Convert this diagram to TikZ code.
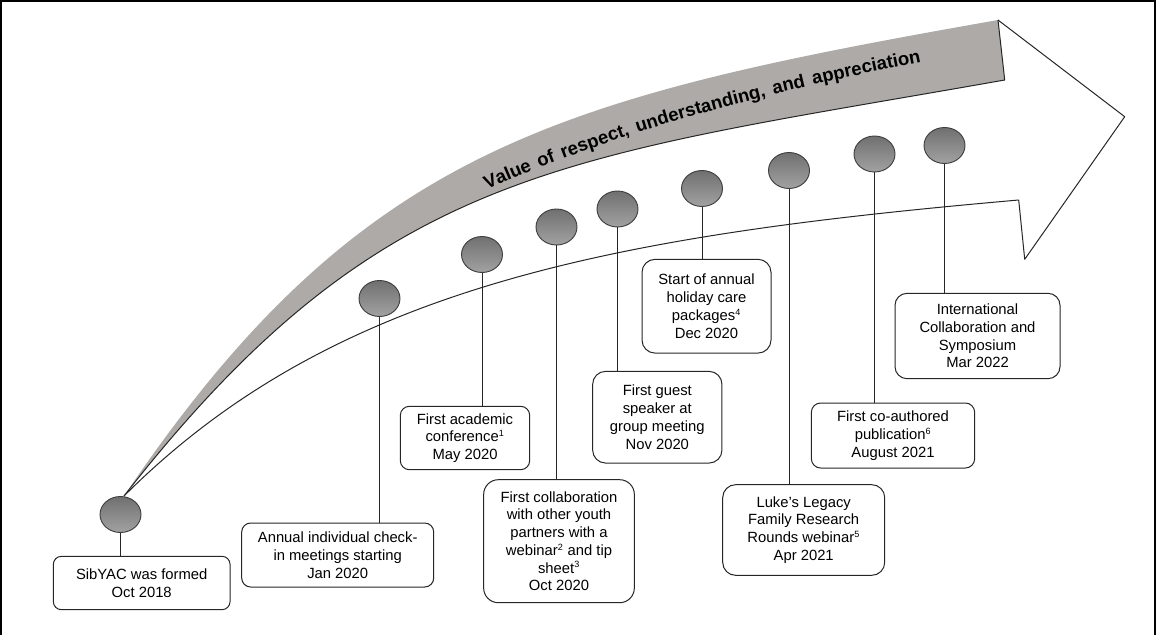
\documentclass[tikz,border=0pt]{standalone}
\usepackage{fontspec}
\setmainfont{Liberation Sans}
\usetikzlibrary{shapes.geometric,decorations.text}
\definecolor{bandgray}{RGB}{173,170,168}
\definecolor{dotdark}{RGB}{112,112,112}
\definecolor{dotlight}{RGB}{162,162,162}
\newcommand\fnmark[1]{\textsuperscript{\fontsize{6.8}{7}\selectfont #1}}
\begin{document}
\begin{tikzpicture}[x=0.75pt,y=-0.75pt,
  milestone/.style={ellipse, draw=black!75, line width=0.7pt,
    minimum width=30.75pt, minimum height=27pt, inner sep=0pt,
    top color=dotdark, bottom color=dotlight},
  event/.style={draw=black!85, fill=white, line width=0.75pt, align=center,
    inner sep=0pt, font=\fontsize{11.1}{13.3}\selectfont},
  link/.style={draw=black!85, line width=0.75pt},
  arrowline/.style={draw=black!85, line width=0.75pt, line join=round}]
\useasboundingbox (0,0) rectangle (1163,635);

% grey band along the top of the big arrow
\fill[bandgray] (124,496) .. controls (359,148) and (555,98) .. (998,20)
  -- (1004.7,80) .. controls (561.8,158.3) and (382.7,165) .. (124,496) -- cycle;
\draw[arrowline] (124,496) .. controls (382.7,165) and (561.8,158.3) .. (1004.7,80);
\draw[arrowline] (998,20) -- (1004.7,80);

% arrow head and lower edge
\draw[arrowline] (998,20) -- (1124.7,116.7) -- (1024.7,259.3) -- (1018.7,200)
  .. controls (620,235) and (336,284) .. (124,496);

% text along the band
\path[decorate, decoration={text along path, text align=fit to path stretching spaces,
  text={|\fontsize{13.9}{16}\selectfont\bfseries|Value of respect, understanding, and appreciation}}]
  (487,190) .. controls (623,129) and (774.7,90.6) .. (921,62);

% milestones
\node[milestone] (c1) at (120.5,514.5) {};
\node[milestone] (c2) at (379.5,298.5) {};
\node[milestone] (c3) at (482,254.5) {};
\node[milestone] (c4) at (556.5,227) {};
\node[milestone] (c5) at (617.5,209) {};
\node[milestone] (c6) at (702,188.5) {};
\node[milestone] (c7) at (789,170.5) {};
\node[milestone] (c8) at (874.5,154) {};
\node[milestone] (c9) at (944.5,145.5) {};

% event boxes
\node[event, minimum width=132.5pt, minimum height=40pt, rounded corners=6pt] (b1) at (141.7,583)
  {SibYAC was formed\\Oct 2018};
\node[event, minimum width=144pt, minimum height=48pt, rounded corners=6.75pt] (b2) at (337.7,555)
  {Annual individual check-\\in meetings starting\\Jan 2020};
\node[event, minimum width=97pt, minimum height=47.5pt, rounded corners=6.75pt] (b3) at (465,438)
  {First academic\\conference\fnmark{1}\\May 2020};
\node[event, minimum width=113pt, minimum height=92.25pt, rounded corners=11pt] (b4) at (559,541.2)
  {First collaboration\\with other youth\\partners with a\\webinar\fnmark{2} and tip\\sheet\fnmark{3}\\Oct 2020};
\node[event, minimum width=97pt, minimum height=68.8pt, rounded corners=9.75pt] (b5) at (657.3,417.2)
  {First guest\\speaker at\\group meeting\\Nov 2020};
\node[event, minimum width=96.75pt, minimum height=70.3pt, rounded corners=9.75pt] (b6) at (706.5,306.2)
  {Start of annual\\holiday care\\packages\fnmark{4}\\Dec 2020};
\node[event, minimum width=121.5pt, minimum height=68pt, rounded corners=9.75pt] (b7) at (803.7,530)
  {Luke's Legacy\\Family Research\\Rounds webinar\fnmark{5}\\Apr 2021};
\node[event, minimum width=122.5pt, minimum height=48.75pt, rounded corners=7pt] (b8) at (893,435.5)
  {First co-authored\\publication\fnmark{6}\\August 2021};
\node[event, minimum width=123.75pt, minimum height=64pt, rounded corners=9pt] (b9) at (977.5,336)
  {International\\Collaboration and\\Symposium\\Mar 2022};

% stems from milestones to boxes
\foreach \i in {1,...,9}
  \draw[link] (c\i.south) -- (c\i.south |- b\i.north);

% outer frame
\draw[line width=1.8pt] (1.2,635) -- (1.2,1.2) -- (1155,1.2) -- (1155,635);
\end{tikzpicture}
\end{document}
